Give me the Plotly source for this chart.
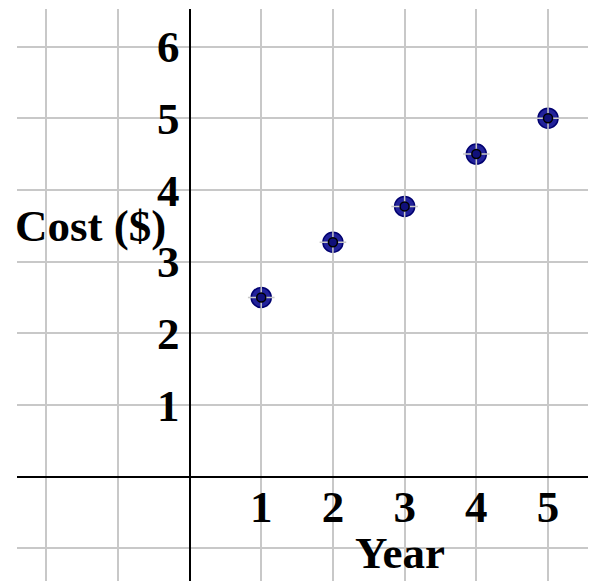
import plotly.graph_objects as go

# ---- data ----
years = [1, 2, 3, 4, 5]
costs = [2.5, 3.27, 3.77, 4.5, 5.0]
x_tick_vals = [-2, -1, 0, 1, 2, 3, 4, 5]
x_tick_text = ["", "", "", "1", "2", "3", "4", "5"]
y_tick_vals = [-1, 0, 1, 2, 3, 4, 5, 6]
y_tick_text = ["", "", "1", "2", "3", "4", "5", "6"]
x_title = "Year"
y_title = "Cost ($)"

X_RANGE = [-2.406, 5.669]
Y_RANGE = [-1.455, 6.523]

FAMILY = "Liberation Serif, Times New Roman, serif"
FONT = dict(family=FAMILY, size=45, color="black")

fig = go.Figure()

fig.add_trace(go.Scatter(
    x=years, y=costs, mode="markers", hoverinfo="skip",
    marker=dict(size=20, color="#22229a", line=dict(color="#000070", width=1.5)),
))
fig.add_trace(go.Scatter(
    x=years, y=costs, mode="markers", hoverinfo="skip",
    marker=dict(size=19, symbol="cross-thin", line=dict(color="#c8c8c8", width=1.5)),
))
fig.add_trace(go.Scatter(
    x=years, y=costs, mode="markers", hoverinfo="skip",
    marker=dict(size=9, color="#10107a", line=dict(color="black", width=1.5)),
))

x0_frac = (0 - X_RANGE[0]) / (X_RANGE[1] - X_RANGE[0])
y0_frac = (0 - Y_RANGE[0]) / (Y_RANGE[1] - Y_RANGE[0])

TICKFONT = dict(family=FAMILY, size=45, color="black", weight="bold")

fig.update_layout(
    width=588, height=573,
    margin=dict(l=9, r=0, t=1, b=0),
    paper_bgcolor="white", plot_bgcolor="white",
    showlegend=False,
    font=FONT,
    xaxis=dict(
        range=X_RANGE, tickmode="array", tickvals=x_tick_vals, ticktext=x_tick_text,
        showgrid=True, gridcolor="#c8c8c8", gridwidth=2,
        zeroline=False, showline=True, linecolor="black", linewidth=2,
        anchor="free", position=y0_frac, side="bottom",
        ticks="", tickfont=TICKFONT,
        ticklabelstandoff=-10, fixedrange=True,
    ),
    yaxis=dict(
        range=Y_RANGE, tickmode="array", tickvals=y_tick_vals, ticktext=y_tick_text,
        showgrid=True, gridcolor="#c8c8c8", gridwidth=2,
        zeroline=False, showline=True, linecolor="black", linewidth=2,
        anchor="free", position=x0_frac, side="left",
        ticks="", tickfont=TICKFONT,
        ticklabelstandoff=0, fixedrange=True,
    ),
    annotations=[
        dict(text="<b>" + y_title + "</b>", x=-1.38, y=3.5, xref="x", yref="y",
             showarrow=False, font=FONT, xanchor="center", yanchor="middle"),
        dict(text="<b>" + x_title + "</b>", x=2.93, y=-1.06, xref="x", yref="y",
             showarrow=False, font=FONT, xanchor="center", yanchor="middle"),
    ],
)

fig.write_html("out.html")
